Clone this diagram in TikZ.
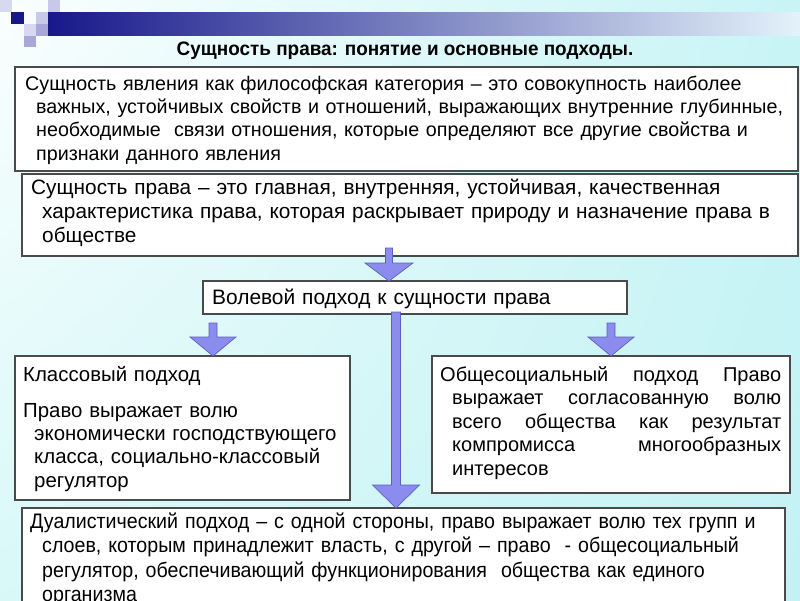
\documentclass[tikz,border=0pt]{standalone}
\usepackage{fontspec}
\setmainfont{Liberation Sans}
\newfontfamily\narrowfont[FakeStretch=0.935]{Liberation Sans}
\newfontfamily\titlefont[FakeStretch=0.97]{Liberation Sans Bold}
\usetikzlibrary{calc,shadings}
\definecolor{boxline}{HTML}{4A4A4A}
\definecolor{arrfill}{HTML}{8C8CEE}
\definecolor{arrline}{HTML}{5E5EC2}
\definecolor{navy}{HTML}{18188A}
\definecolor{bannermid}{HTML}{5858AA}
\definecolor{bannerend}{HTML}{E4F2FA}
\definecolor{bgUL}{HTML}{FAFEFE}
\definecolor{bgUR}{HTML}{C8F4F6}
\definecolor{bgLL}{HTML}{D8F8F8}
\definecolor{bgLR}{HTML}{C4F2F4}
\definecolor{sqA}{HTML}{C8C8E8}
\definecolor{sqB}{HTML}{A8A8D8}
\definecolor{sqC}{HTML}{D8D8F0}
\newcommand\myblockarrow[5]{%
  \draw[arrowshape] let \p1=(#1), \p2=(#2) in
    (\x1-#3pt,\y1) -- (\x1+#3pt,\y1) -- (\x1+#3pt,\y2+#5pt) -- (\x1+#4pt,\y2+#5pt)
    -- (\x1,\y2) -- (\x1-#4pt,\y2+#5pt) -- (\x1-#3pt,\y2+#5pt) -- cycle;}
\begin{document}
\begin{tikzpicture}[x=1pt,y=-1pt,
  box/.style={draw=boxline, line width=1.4pt, fill=white, anchor=north west, inner sep=0pt, outer sep=0pt},
  txt/.style={inner sep=0pt, anchor=north west, align=left, text width=770pt, font=\fontsize{19.7}{23.3}\selectfont},
  arrowshape/.style={fill=arrfill, draw=arrline, line width=0.7pt, line join=miter}]
\useasboundingbox (0,0) rectangle (800,600);
\clip (0,0) rectangle (800,600);
% background
\shade[upper left=bgUL, upper right=bgUR, lower left=bgLL, lower right=bgLR] (0,0) rectangle (800,600);
% banner and squares
\shade[left color=navy, middle color=bannermid, right color=bannerend] (48,12) rectangle (800,35);
\fill[sqC] (0,0) rectangle (12,12);
\fill[navy] (11,12) rectangle (24,24);
\fill[sqA] (36,12) rectangle (48,24);
\fill[sqA] (48,0) rectangle (60,12);
\fill[sqC] (24,24) rectangle (36,36);
\fill[sqB] (36,24) rectangle (48,36);
\fill[sqB] (24,36) rectangle (36,47);
% title
\node[font=\titlefont\fontsize{19.5}{22}\selectfont, anchor=base, inner sep=0pt] (title) at (405,55) {Сущность права: понятие и основные подходы.};
% boxes
\node[box, minimum width=783pt, minimum height=104pt] (b1) at (15,67) {};
\node[box, minimum width=776pt, minimum height=82pt] (b2) at (22,174) {};
\node[box, minimum width=424pt, minimum height=33pt] (vol) at (203,281) {};
\node[box, minimum width=335pt, minimum height=144pt] (kl) at (15,356) {};
\node[box, minimum width=358pt, minimum height=137pt] (ob) at (432,356) {};
\node[box, minimum width=763pt, minimum height=120pt] (du) at (22,508) {};
% texts
\node[txt] (t1) at (25,73.7) {\strut Сущность явления как философская категория – это совокупность наиболее\\
\hspace*{11pt}важных, устойчивых свойств и отношений, выражающих внутренние глубинные,\\
\hspace*{11pt}необходимые\ \ связи отношения, которые определяют все другие свойства и\\
\hspace*{11pt}признаки данного явления};
\node[txt, font=\fontsize{20.8}{24}\selectfont] (t2) at (31,177.2) {\strut Сущность права – это главная, внутренняя, устойчивая, качественная\\
\hspace*{11pt}характеристика права, которая раскрывает природу и назначение права в\\
\hspace*{11pt}обществе};
\node[txt, font=\fontsize{20.9}{23.3}\selectfont] (tvol) at (212,287.7) {\strut Волевой подход к сущности права};
\node[txt, font=\fontsize{20.4}{23.3}\selectfont] (tkl) at (23,364.7) {\strut Классовый подход\\[12.7pt]
Право выражает волю\\
\hspace*{11pt}экономически господствующего\\
\hspace*{11pt}класса, социально-классовый\\
\hspace*{11pt}регулятор};
\node[txt, font=\fontsize{20}{23.5}\selectfont] (tob) at (440,364.6) {\strut\hbox to 341pt{Общесоциальный\hfill подход\hfill Право}\\
\hspace*{12pt}\hbox to 329pt{выражает\hfill согласованную\hfill волю}\\
\hspace*{12pt}\hbox to 329pt{всего\hfill общества\hfill как\hfill результат}\\
\hspace*{12pt}\hbox to 329pt{компромисса\hfill многообразных}\\
\hspace*{12pt}интересов};
\node[txt, font=\narrowfont\fontsize{21}{24.5}\selectfont] (tdu) at (30,510.9) {\strut Дуалистический подход – с одной стороны, право выражает волю тех групп и\\
\hspace*{12pt}слоев, которым принадлежит власть, с другой – право\ \ - общесоциальный\\
\hspace*{12pt}регулятор, обеспечивающий функционирования\ \ общества как единого\\
\hspace*{12pt}организма};
% arrows
\coordinate (a1s) at (389,248);
\coordinate (a2s) at (213,323);
\coordinate (a3s) at (611,323);
\coordinate (a4s) at (396,312);
\myblockarrow{a1s}{a1s |- vol.north}{3.5}{24}{18}
\myblockarrow{a2s}{a2s |- kl.north}{4}{23}{19}
\myblockarrow{a3s}{a3s |- ob.north}{4}{23}{19}
\myblockarrow{a4s}{a4s |- du.north}{4.5}{23.5}{23}
\end{tikzpicture}
\end{document}
